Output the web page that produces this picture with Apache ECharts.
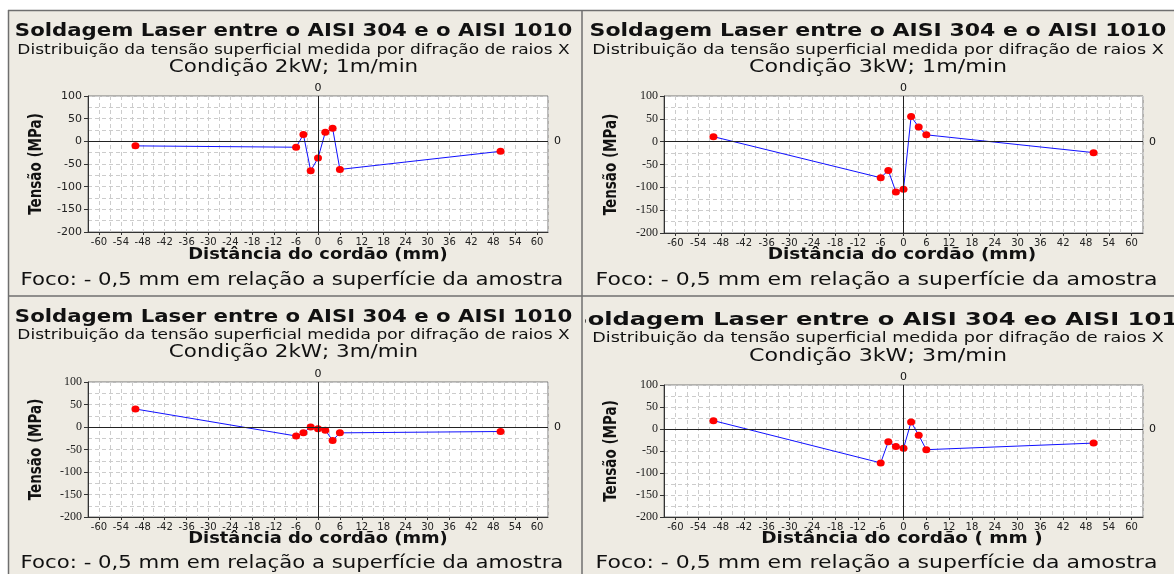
<!DOCTYPE html>
<html lang="pt">
<head>
<meta charset="UTF-8">
<title>Soldagem Laser - tensão superficial</title>
<script src="https://cdn.jsdelivr.net/npm/echarts/dist/echarts.min.js"></script>
<style>
  html, body { margin: 0; padding: 0; background: #fff; }
  #main { width: 1174px; height: 574px; }
</style>
</head>
<body>
<div id="main"></div>
<script type="text/javascript">
// distance from the weld bead (mm), same positions for the 4 conditions
var distancias = [-50, -6, -4, -2, 0, 2, 4, 6, 50];
// measured surface stress (MPa)
var tensao2kW1m = [-10, -13, 15, -65, -37, 20, 29, -62, -22];
var tensao3kW1m = [11, -79, -63, -110, -104, 55, 32, 15, -24];
var tensao2kW3m = [40, -20, -13, 0, -4, -7, -30, -13, -10];
var tensao3kW3m = [19, -77, -29, -40, -44, 16, -14, -47, -32];

var xTicks = [-60, -54, -48, -42, -36, -30, -24, -18, -12, -6, 0, 6, 12, 18, 24, 30, 36, 42, 48, 54, 60];

var titulo = 'Soldagem Laser entre o AISI 304 e o AISI 1010';
var titulo4 = 'Soldagem Laser entre o AISI 304 eo AISI 1010';
var subtitulo = 'Distribuição da tensão superficial medida por difração de raios X';
var condicoes = ['Condição 2kW; 1m/min', 'Condição 3kW; 1m/min', 'Condição 2kW; 3m/min', 'Condição 3kW; 3m/min'];
var nomesX = ['Distância do cordão (mm)', 'Distância do cordão (mm)', 'Distância do cordão (mm)', 'Distância do cordão ( mm )'];
var nomeY = 'Tensão (MPa)';
var rodape = 'Foco: - 0,5 mm em relação a superfície da amostra';

var SANS = '"DejaVu Sans", Verdana, sans-serif';
var SERIF = '"Liberation Serif", "DejaVu Serif", serif';

// panel layout (st = extra sideways stretch of the right-hand panels)
var paineis = [
  { dados: tensao2kW1m, grid: { left: 88, top: 96, width: 460, height: 136 }, cx: 293.5, st: 1, yLab: SANS, yt: 32, ys: 50, yc: 67, yx: 255, yf: 280, xName: 318, xY: 36 },
  { dados: tensao3kW1m, grid: { left: 664, top: 96, width: 479, height: 137 }, cx: 878, st: 1.035, yLab: SERIF, yt: 32, ys: 50, yc: 67, yx: 255, yf: 280, xName: 902, xY: 611 },
  { dados: tensao2kW3m, grid: { left: 88, top: 382, width: 460, height: 135 }, cx: 293.5, st: 1, yLab: SERIF, yt: 318, ys: 335, yc: 352, yx: 539, yf: 563, xName: 318, xY: 36 },
  { dados: tensao3kW3m, grid: { left: 664, top: 385, width: 479, height: 132 }, cx: 878, st: 1.035, yLab: SERIF, yt: 320, ys: 338, yc: 356, yx: 539, yf: 563, xName: 902, xY: 611 }
];

// the source picture is stretched sideways, so texts get a scaleX
function txt(t, x, y, size, bold, sx, z, rot) {
  return {
    type: 'text', z: z, silent: true,
    x: x, y: y, scaleX: rot ? 1 : sx, scaleY: rot ? sx : 1, rotation: rot || 0,
    style: {
      text: t, x: 0, y: 0, fill: '#111',
      font: (bold ? 'bold ' : '') + size + 'px ' + SANS,
      align: 'center', verticalAlign: 'middle'
    }
  };
}

var grids = [], xAxes = [], yAxes = [], series = [];
var graphics = [
  { type: 'rect', z: 0, silent: true, shape: { x: 0, y: 0, width: 1174, height: 10 }, style: { fill: '#fff' } },
  { type: 'rect', z: 0, silent: true, shape: { x: 0, y: 0, width: 8, height: 574 }, style: { fill: '#fff' } }
];

paineis.forEach(function (p, i) {
  grids.push({
    left: p.grid.left, top: p.grid.top, width: p.grid.width, height: p.grid.height,
    show: true, backgroundColor: '#fff', borderColor: '#777', borderWidth: 1
  });
  // axis with labels
  xAxes.push({
    type: 'value', gridIndex: i, min: -63, max: 63,
    axisLine: { show: true, onZero: false, lineStyle: { color: '#333', width: 1 } },
    axisTick: { show: true, length: 3, customValues: xTicks, lineStyle: { color: '#333' } },
    axisLabel: { customValues: xTicks, fontSize: 10, color: '#222', margin: 5, fontFamily: SANS },
    splitLine: { show: false }
  });
  // axis only for the dashed grid
  xAxes.push({
    type: 'value', gridIndex: i, min: -63, max: 63, interval: 3,
    axisLine: { show: false }, axisTick: { show: false }, axisLabel: { show: false },
    splitLine: { show: true, lineStyle: { color: '#cccccc', type: [4, 3], width: 1 } }
  });
  yAxes.push({
    type: 'value', gridIndex: i, min: -200, max: 100, interval: 50,
    axisLine: { show: true, onZero: false, lineStyle: { color: '#333', width: 1 } },
    axisTick: { show: true, length: 4, lineStyle: { color: '#333' } },
    axisLabel: { fontSize: i === 0 ? 11 : 12, color: '#222', margin: 6, fontFamily: p.yLab },
    splitLine: { show: false }
  });
  yAxes.push({
    type: 'value', gridIndex: i, min: -200, max: 100, interval: 25,
    axisLine: { show: false }, axisTick: { show: false }, axisLabel: { show: false },
    splitLine: { show: true, lineStyle: { color: '#cccccc', type: [4, 3], width: 1 } }
  });

  series.push({
    type: 'line', xAxisIndex: 2 * i, yAxisIndex: 2 * i,
    data: distancias.map(function (d, k) { return [d, p.dados[k]]; }),
    symbol: 'circle', symbolSize: [8, 7],
    itemStyle: { color: '#ff0000' },
    lineStyle: { color: '#1010ff', width: 1 },
    animation: false, z: 4,
    markLine: {
      silent: true, symbol: ['none', 'none'], animation: false,
      lineStyle: { color: '#222', type: 'solid', width: 1 },
      label: { color: '#111', fontSize: 11, fontFamily: SANS, formatter: '0' },
      data: [
        { xAxis: 0, label: { position: 'end', distance: 2 } },
        { yAxis: 0, label: { position: 'end', distance: 6 } }
      ]
    }
  });

  if (i === 3) {
    graphics.push(txt(titulo4, 882.5, p.yt, 18.3, true, 1.32, 1));
  } else {
    graphics.push(txt(titulo, p.cx, p.yt, 17, true, 1.25 * p.st, 3));
  }
  graphics.push(txt(subtitulo, p.cx, p.ys, 14, false, 1.215 * p.st, 3));
  graphics.push(txt(condicoes[i], p.cx, p.yc, 18, false, 1.19 * p.st, 3));
  graphics.push(txt(nomesX[i], p.xName, p.yx, 15, true, 1.19 * p.st, 3));
  graphics.push(txt(rodape, p.cx - 1.5, p.yf, 18, false, 1.18 * p.st, 3));
  graphics.push(txt(nomeY, p.xY, p.grid.top + p.grid.height / 2, 13.5, true, 1.3, 3, Math.PI / 2));
});

// hide the start of the 4th title under the 3rd panel
graphics.push({ type: 'rect', z: 2, silent: true, shape: { x: 8, y: 300, width: 577, height: 40 }, style: { fill: '#EEEBE3' } });

// frame lines
var frame = '#6f6f6f';
graphics.push({ type: 'line', z: 5, silent: true, shape: { x1: 8, y1: 10.5, x2: 1174, y2: 10.5 }, style: { stroke: frame, lineWidth: 1.5 } });
graphics.push({ type: 'line', z: 5, silent: true, shape: { x1: 8.5, y1: 10, x2: 8.5, y2: 574 }, style: { stroke: frame, lineWidth: 1.5 } });
graphics.push({ type: 'line', z: 5, silent: true, shape: { x1: 582, y1: 10, x2: 582, y2: 574 }, style: { stroke: frame, lineWidth: 1.5 } });
graphics.push({ type: 'line', z: 5, silent: true, shape: { x1: 8, y1: 296, x2: 1174, y2: 296 }, style: { stroke: frame, lineWidth: 1.5 } });

var myChart = echarts.init(document.getElementById('main'));
var option = {
  backgroundColor: '#EEEBE3',
  animation: false,
  grid: grids,
  xAxis: xAxes,
  yAxis: yAxes,
  series: series,
  graphic: { elements: graphics }
};
myChart.setOption(option);
</script>
</body>
</html>
